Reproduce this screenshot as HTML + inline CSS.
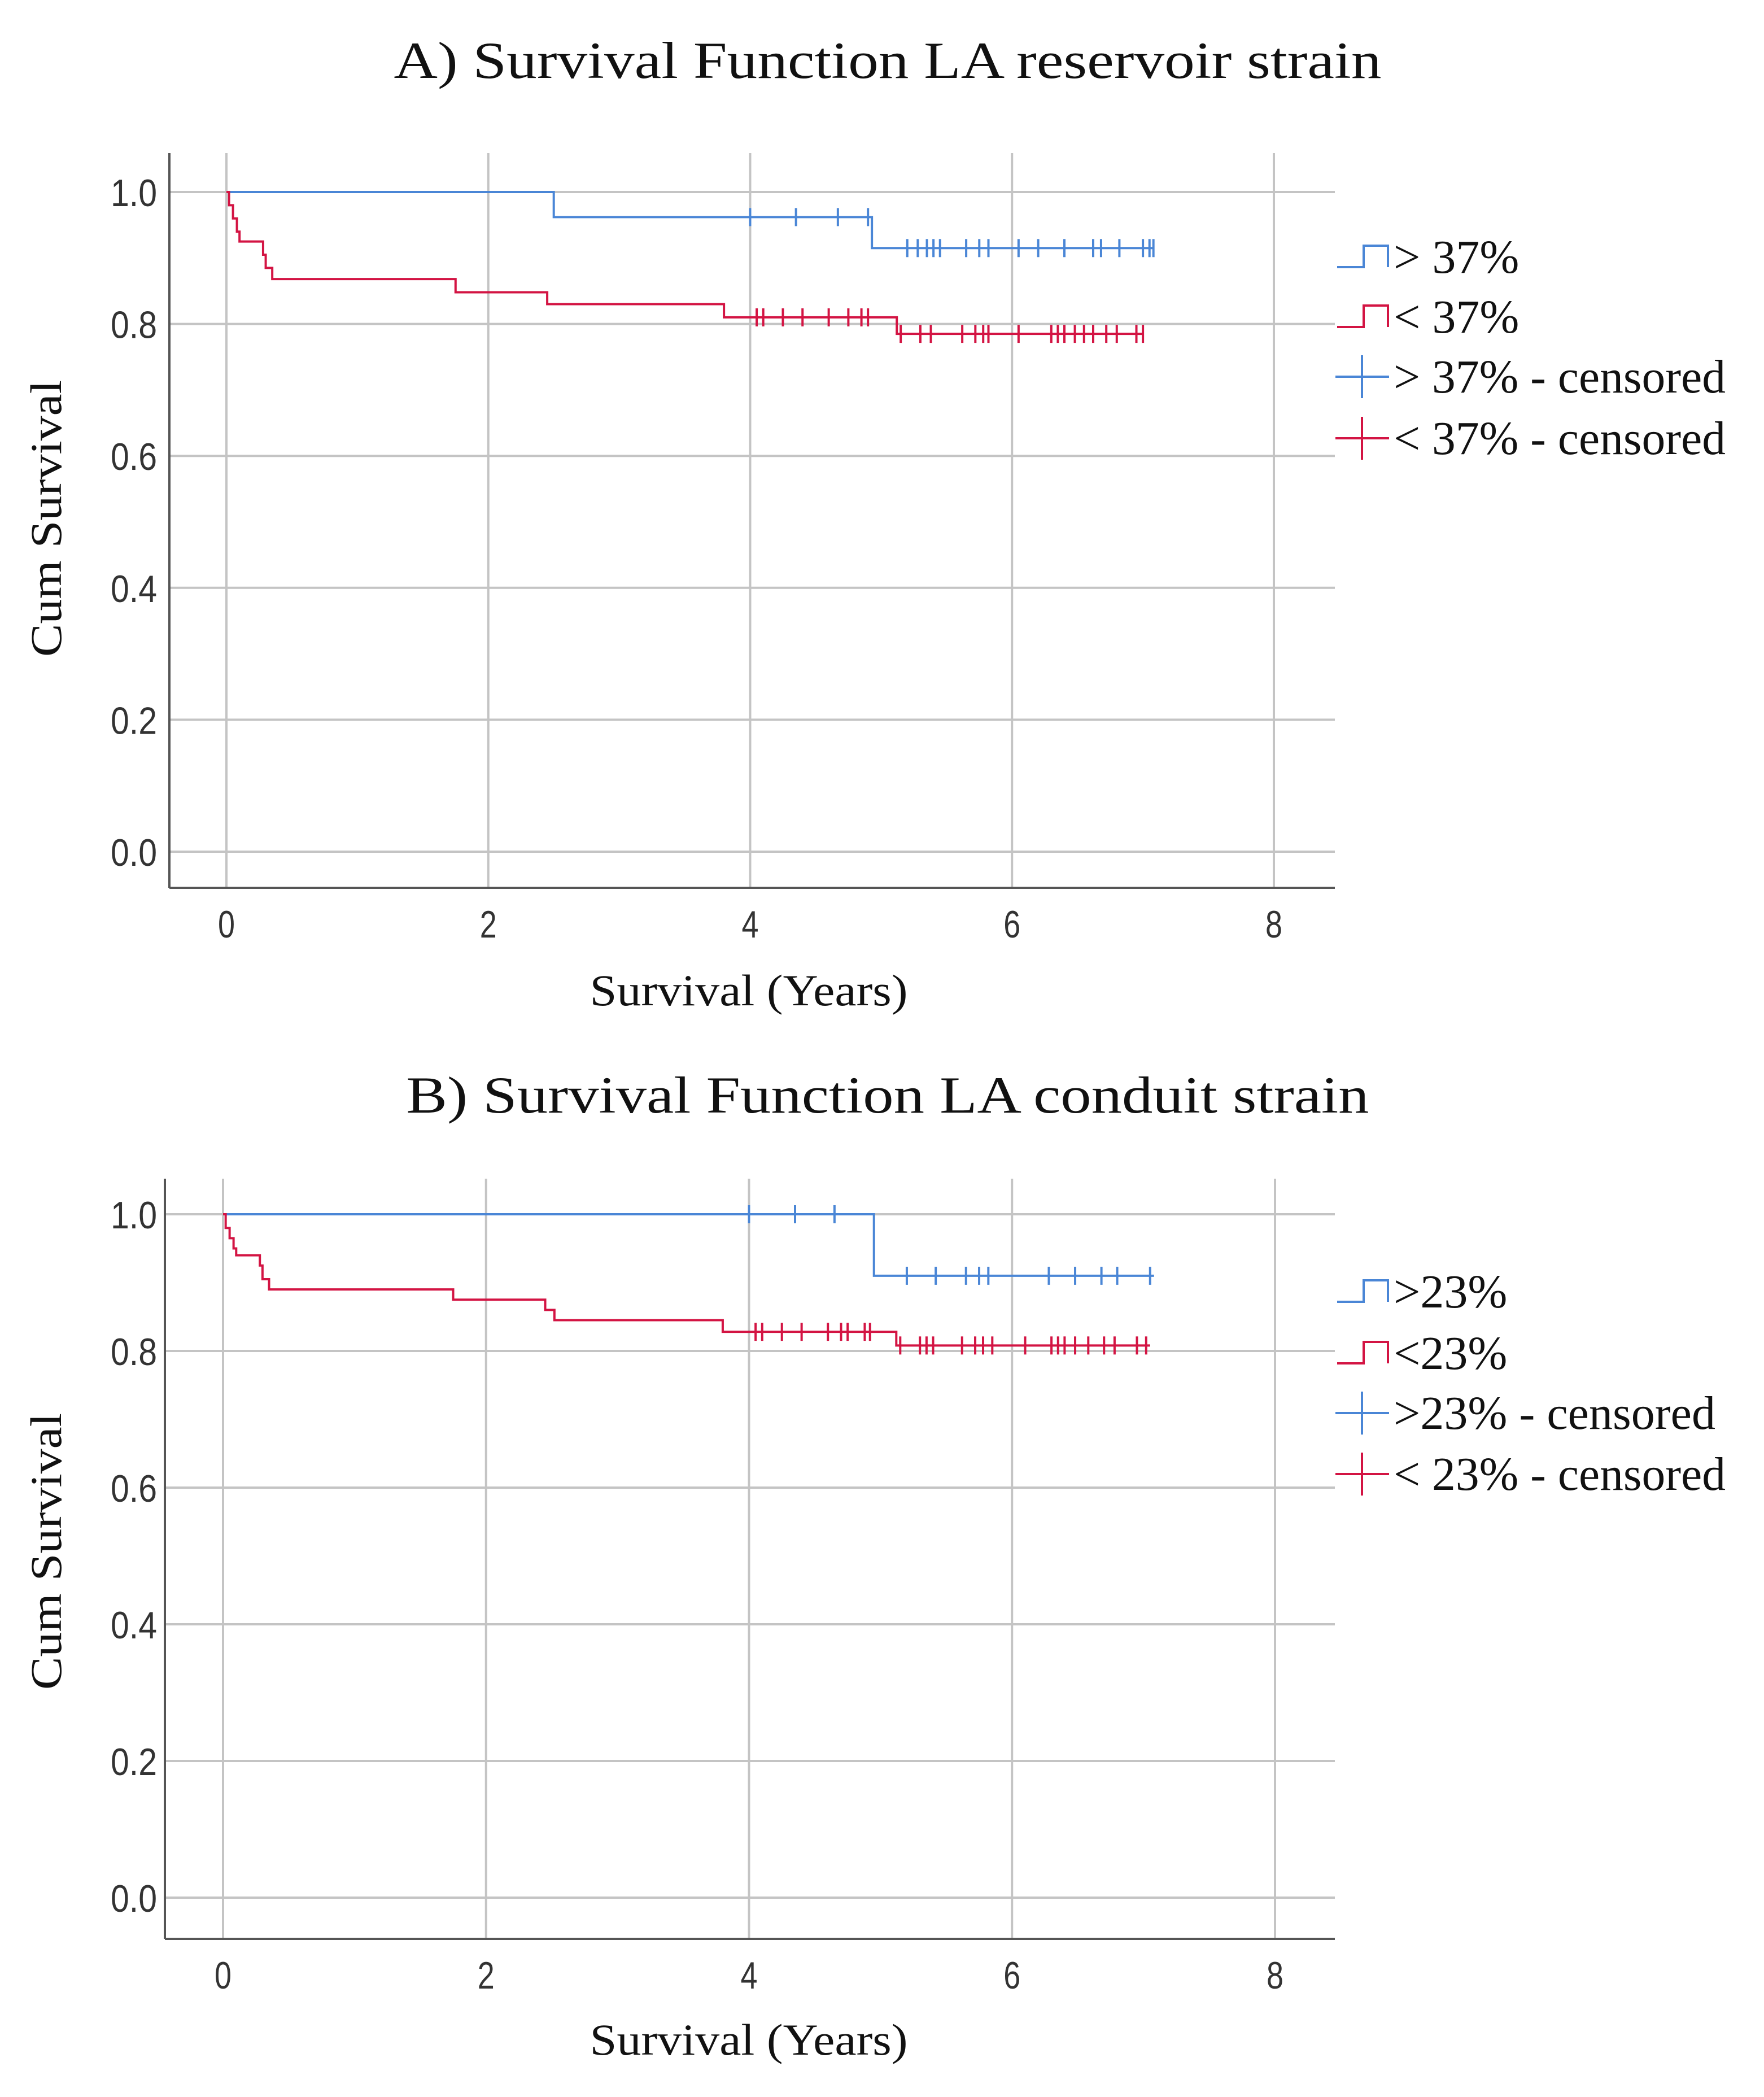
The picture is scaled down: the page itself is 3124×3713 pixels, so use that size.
<!DOCTYPE html>
<html><head><meta charset="utf-8"><style>
html,body{margin:0;padding:0;background:#fff;}
svg{display:block;}
</style></head><body>
<svg id="chart" width="3124" height="3713" viewBox="0 0 3124 3713" xmlns="http://www.w3.org/2000/svg">
<rect width="3124" height="3713" fill="#fff"/>
</svg>
<script>
// ---- Data arrays ----
const xTicks = [0, 2, 4, 6, 8];
const yTicks = [0.0, 0.2, 0.4, 0.6, 0.8, 1.0];
const yTickLabels = ["0.0", "0.2", "0.4", "0.6", "0.8", "1.0"];
const titlesText = ["A) Survival Function LA reservoir strain", "B) Survival Function LA conduit strain"];
const legendA = ["> 37%", "< 37%", "> 37% - censored", "< 37% - censored"];
const legendB = [">23%", "<23%", ">23% - censored", "< 23% - censored"];

const aBlueT = [0, 2.5, 4.93, 7.08];
const aBlueS = [1.0, 0.962, 0.915, 0.915];
const aBlueCensT = [4.0, 4.35, 4.67, 4.9, 5.2, 5.28, 5.35, 5.4, 5.45, 5.65, 5.75, 5.82, 6.05, 6.2, 6.4, 6.62, 6.68, 6.82, 7.0, 7.05, 7.08];
const aRedT = [0, 0.02, 0.05, 0.08, 0.1, 0.28, 0.3, 0.35, 1.75, 2.45, 3.8, 5.12, 7.0];
const aRedS = [1.0, 0.98, 0.96, 0.94, 0.925, 0.905, 0.885, 0.868, 0.848, 0.83, 0.81, 0.785, 0.785];
const aRedCensT = [4.05, 4.1, 4.25, 4.4, 4.6, 4.75, 4.85, 4.9, 5.15, 5.3, 5.38, 5.62, 5.72, 5.78, 5.82, 6.05, 6.3, 6.35, 6.4, 6.48, 6.55, 6.62, 6.72, 6.8, 6.95, 7.0];

const bBlueT = [0, 4.95, 7.08];
const bBlueS = [1.0, 0.91, 0.91];
const bBlueCensT = [4.0, 4.35, 4.65, 5.2, 5.42, 5.65, 5.75, 5.82, 6.28, 6.48, 6.68, 6.8, 7.05];
const bRedT = [0, 0.02, 0.05, 0.08, 0.1, 0.28, 0.3, 0.35, 1.75, 2.45, 2.52, 3.8, 5.12, 7.05];
const bRedS = [1.0, 0.98, 0.965, 0.95, 0.94, 0.925, 0.905, 0.89, 0.875, 0.86, 0.845, 0.828, 0.808, 0.808];
const bRedCensT = [4.05, 4.1, 4.25, 4.4, 4.6, 4.7, 4.75, 4.88, 4.92, 5.15, 5.3, 5.35, 5.4, 5.62, 5.72, 5.78, 5.85, 6.1, 6.3, 6.35, 6.4, 6.48, 6.58, 6.7, 6.78, 6.95, 7.02];

const NS = "http://www.w3.org/2000/svg";
const svg = document.getElementById("chart");
const BLUE = "#4a86d6", RED = "#d31443";
function mk(tag, attrs, parent) {
  const e = document.createElementNS(NS, tag);
  for (const k in attrs) e.setAttribute(k, attrs[k]);
  (parent || svg).appendChild(e);
  return e;
}

function panel(cfg) {
  const g = mk("g", {});
  
  
  const sx = v => cfg.x0 + (cfg.x8 - cfg.x0) * v / 8;
  const sy = v => cfg.y0 + (cfg.y1 - cfg.y0) * v;

  const t = mk("text", {x: 1572, y: cfg.titleY, "font-family": "Liberation Serif, serif", "font-size": 92, "text-anchor": "middle", fill: "#111", textLength: cfg.titleLen, lengthAdjust: "spacingAndGlyphs"}, g);
  t.textContent = cfg.title;
  
  

  yTicks.forEach((v, i) => {
    const l = mk("line", {x1: cfg.left, x2: cfg.right, y1: sy(v), y2: sy(v), stroke: "#c4c4c4", "stroke-width": 4}, g);
    
    
    const tl = mk("text", {x: 278, y: sy(v) + 25, "font-family": "Liberation Sans, sans-serif", "font-size": 68, "text-anchor": "end", fill: "#333", textLength: 82, lengthAdjust: "spacingAndGlyphs"}, g);
    tl.textContent = yTickLabels[i];
    
    
  });
  xTicks.forEach(v => {
    const l = mk("line", {x1: sx(v), x2: sx(v), y1: cfg.top, y2: cfg.bottom, stroke: "#c4c4c4", "stroke-width": 4}, g);
    
    
    const tl = mk("text", {x: sx(v), y: cfg.bottom + 88, "font-family": "Liberation Sans, sans-serif", "font-size": 68, "text-anchor": "middle", fill: "#333", textLength: 30, lengthAdjust: "spacingAndGlyphs"}, g);
    tl.textContent = String(v);
    
    
  });
  const ya = mk("line", {x1: cfg.left, x2: cfg.left, y1: cfg.top, y2: cfg.bottom, stroke: "#555", "stroke-width": 4}, g);
  
  
  const xa = mk("line", {x1: cfg.left, x2: cfg.right, y1: cfg.bottom, y2: cfg.bottom, stroke: "#555", "stroke-width": 4}, g);
  
  

  const xt = mk("text", {x: 1326, y: cfg.xTitleY, "font-family": "Liberation Serif, serif", "font-size": 78, "text-anchor": "middle", fill: "#111", textLength: 563, lengthAdjust: "spacingAndGlyphs"}, g);
  xt.textContent = "Survival (Years)";
  
  
  const yt = mk("text", {x: 0, y: 0, transform: `translate(108 ${cfg.yTitleC}) rotate(-90)`, "font-family": "Liberation Serif, serif", "font-size": 78, "text-anchor": "middle", fill: "#111", textLength: 490, lengthAdjust: "spacingAndGlyphs"}, g);
  yt.textContent = "Cum Survival";
  
  

  function step(T, S, color, name) {
    let d = `M${sx(T[0])},${sy(S[0])}`;
    for (let i = 1; i < T.length; i++) d += ` H${sx(T[i])} V${sy(S[i])}`;
    const p = mk("path", {d: d, fill: "none", stroke: color, "stroke-width": 4}, g);
    
    
  }
  function survAt(T, S, t) { let s = S[0]; for (let i = 0; i < T.length; i++) if (T[i] <= t) s = S[i]; return s; }
  function cens(C, T, S, color, name) {
    C.forEach(c => {
      const y = sy(survAt(T, S, c));
      const l = mk("line", {x1: sx(c), x2: sx(c), y1: y - 16, y2: y + 16, stroke: color, "stroke-width": 4}, g);
      
      
    });
  }
  step(cfg.blueT, cfg.blueS, BLUE, "high-strain-curve");
  step(cfg.redT, cfg.redS, RED, "low-strain-curve");
  cens(cfg.blueC, cfg.blueT, cfg.blueS, BLUE, "high-strain-censor-mark");
  cens(cfg.redC, cfg.redT, cfg.redS, RED, "low-strain-censor-mark");

  cfg.legend.forEach((txt, i) => {
    const cy = cfg.legY[i];
    const color = i % 2 === 0 ? BLUE : RED;
    if (i < 2) {
      const p = mk("path", {d: `M2368,${cy + 18} H2415 V${cy - 20} H2458 V${cy + 18}`, fill: "none", stroke: color, "stroke-width": 4}, g);
      
      
    } else {
      const p = mk("path", {d: `M2365,${cy} H2460 M2412,${cy - 38} V${cy + 38}`, fill: "none", stroke: color, "stroke-width": 4}, g);
      
      
    }
    const attrs = {x: 2468, y: cy + 28, "font-family": "Liberation Serif, serif", "font-size": 84, fill: "#111"};
    if (cfg.legLen[i]) { attrs.textLength = cfg.legLen[i]; attrs.lengthAdjust = "spacingAndGlyphs"; }
    const lt = mk("text", attrs, g);
    lt.textContent = txt;
    
    
  });
}

panel({name: "panel-a-reservoir-strain", title: titlesText[0], titleY: 138, titleLen: 1749, legLen: [0, 0, 588, 588],
  x0: 401, x8: 2256, y0: 1508, y1: 340, left: 300, right: 2364, top: 271, bottom: 1572,
  xTitleY: 1780, yTitleC: 918,
  blueT: aBlueT, blueS: aBlueS, blueC: aBlueCensT, redT: aRedT, redS: aRedS, redC: aRedCensT,
  legend: legendA, legY: [455, 561, 667, 776]});
panel({name: "panel-b-conduit-strain", title: titlesText[1], titleY: 1970, titleLen: 1705, legLen: [0, 0, 570, 588],
  x0: 395, x8: 2258, y0: 3360, y1: 2150, left: 292, right: 2364, top: 2087, bottom: 3433,
  xTitleY: 3638, yTitleC: 2747,
  blueT: bBlueT, blueS: bBlueS, blueC: bBlueCensT, redT: bRedT, redS: bRedS, redC: bRedCensT,
  legend: legendB, legY: [2287, 2396, 2502, 2610]});
</script>
</body></html>
